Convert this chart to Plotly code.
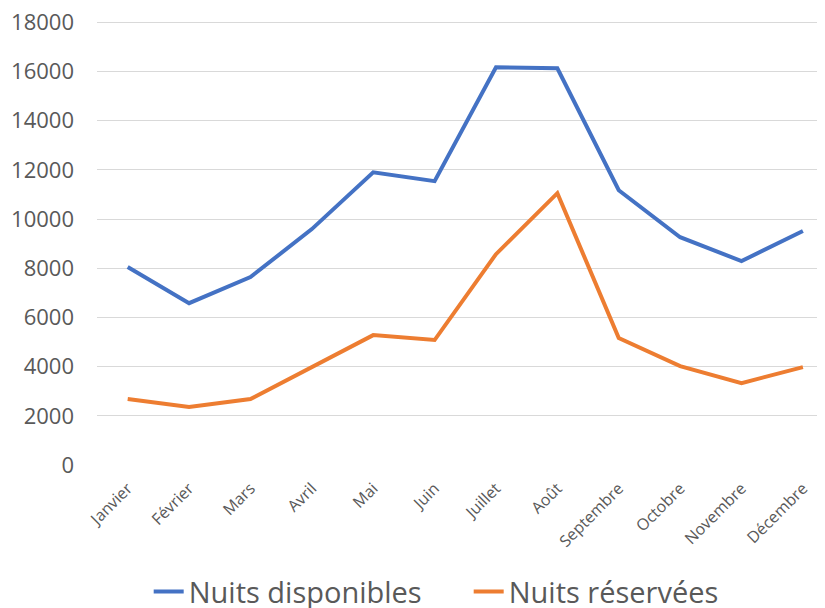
import plotly.graph_objects as go

months = ["Janvier", "Février", "Mars", "Avril", "Mai", "Juin", "Juillet",
          "Août", "Septembre", "Octobre", "Novembre", "Décembre"]
nuits_disponibles = [8050, 6580, 7640, 9590, 11900, 11540, 16170, 16130, 11170, 9260, 8290, 9510]
nuits_reservees = [2680, 2360, 2680, 3980, 5280, 5080, 8570, 11050, 5160, 4020, 3330, 3980]
y_ticks = [0, 2000, 4000, 6000, 8000, 10000, 12000, 14000, 16000, 18000]

fig = go.Figure()
fig.add_trace(go.Scatter(x=months, y=nuits_disponibles, mode="lines",
                         name="Nuits disponibles",
                         line=dict(color="#4472C4", width=4)))
fig.add_trace(go.Scatter(x=months, y=nuits_reservees, mode="lines",
                         name="Nuits réservées",
                         line=dict(color="#ED7D31", width=4)))

fig.update_layout(
    width=817, height=600,
    margin=dict(l=89, r=0, t=13, b=143, autoexpand=False),
    paper_bgcolor="white", plot_bgcolor="white",
    font=dict(family="Open Sans", color="#595959"),
    showlegend=True,
    legend=dict(orientation="h", x=0.071, xanchor="left", y=-0.285, yanchor="middle",
                font=dict(size=29, color="#595959"), entrywidth=275,
                tracegroupgap=0, bgcolor="rgba(0,0,0,0)"),
    xaxis=dict(type="category", range=[-0.5, 11.36], showgrid=False,
               showline=False, zeroline=False, tickangle=-45, automargin=False,
               tickfont=dict(size=16, color="#595959"), ticks="",
               ticklabelstandoff=10),
    yaxis=dict(range=[0, 18050], tickvals=y_ticks, tickformat="d", showgrid=True,
               gridcolor="#D9D9D9", gridwidth=1.3, zeroline=False, automargin=False,
               showline=False, tickfont=dict(size=22, color="#595959"),
               ticklabelstandoff=22, ticklabeloverflow="allow"),
)

fig.write_html("out.html")
